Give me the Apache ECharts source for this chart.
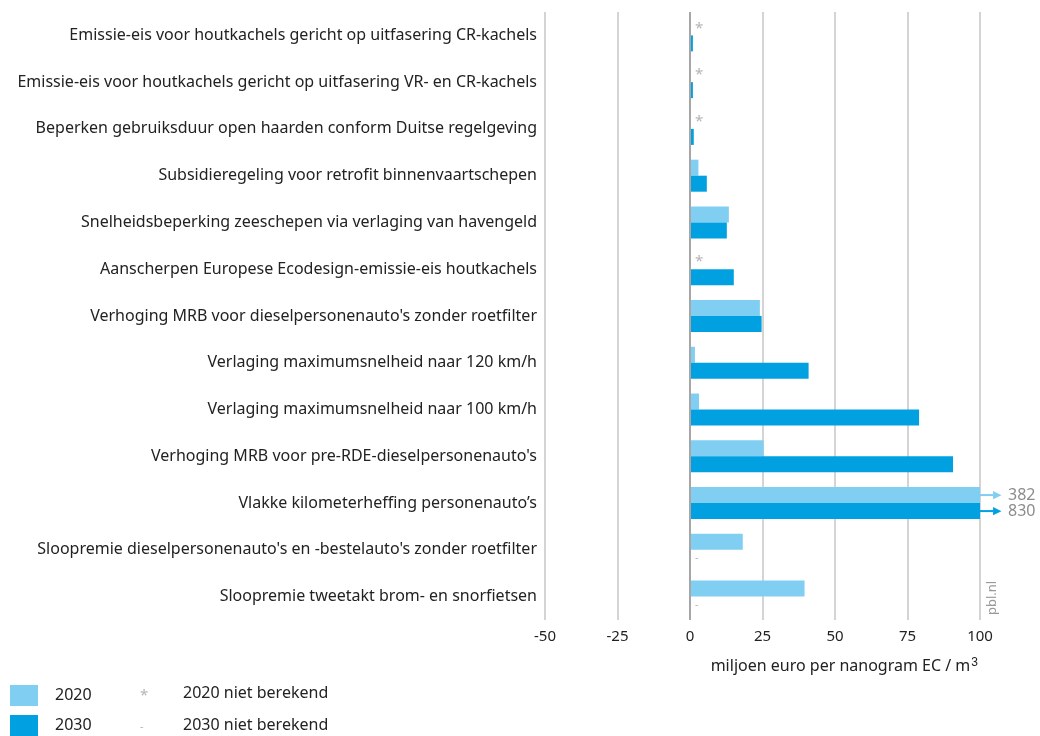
<!DOCTYPE html>
<html>
<head>
<meta charset="utf-8">
<script src="https://cdn.jsdelivr.net/npm/echarts@6/dist/echarts.min.js"></script>
<style>
  html, body { margin: 0; padding: 0; background: #fff; }
  #chart { width: 1040px; height: 736px; }
</style>
</head>
<body>
<div id="chart"></div>
<script>
// maatregelen (van boven naar beneden)
const categories = [
  'Emissie-eis voor houtkachels gericht op uitfasering CR-kachels',
  'Emissie-eis voor houtkachels gericht op uitfasering VR- en CR-kachels',
  'Beperken gebruiksduur open haarden conform Duitse regelgeving',
  'Subsidieregeling voor retrofit binnenvaartschepen',
  'Snelheidsbeperking zeeschepen via verlaging van havengeld',
  'Aanscherpen Europese Ecodesign-emissie-eis houtkachels',
  "Verhoging MRB voor dieselpersonenauto's zonder roetfilter",
  'Verlaging maximumsnelheid naar 120 km/h',
  'Verlaging maximumsnelheid naar 100 km/h',
  "Verhoging MRB voor pre-RDE-dieselpersonenauto's",
  'Vlakke kilometerheffing personenauto’s',
  "Sloopremie dieselpersonenauto's en -bestelauto's zonder roetfilter",
  'Sloopremie tweetakt brom- en snorfietsen'
];
// null = niet berekend
const values2020 = [null, null, null, 2.9, 13.4, null, 24.1, 1.7, 3.1, 25.4, 382, 18.2, 39.5];
const values2030 = [1.0, 1.0, 1.3, 5.8, 12.7, 15.1, 24.7, 40.9, 79, 90.7, 830, null, null];
const xTicks = [-50, -25, 0, 25, 50, 75, 100];

const xMin = xTicks[0];
const xMax = xTicks[xTicks.length - 1];
const color2020 = '#80cff3';
const color2030 = '#00a0e1';

// bouw de data-items: ontbrekend -> markering, te groot -> pijl met waarde
function buildData(values, color, missingMark) {
  return values.map(v => {
    if (v === null) {
      return {
        value: 0,
        label: {
          show: true, position: 'right', distance: 5,
          formatter: missingMark,
          color: '#b5b5b5', fontSize: missingMark === '*' ? 15 : 11,
          offset: missingMark === '*' ? [0, 1] : [0, 0]
        }
      };
    }
    if (v > xMax) {
      return {
        value: xMax,
        label: {
          show: true, position: 'right', distance: 0,
          formatter: '{ln|}{tri|▶}{num|' + v + '}',
          rich: {
            ln: { width: 13, height: 2, backgroundColor: color },
            tri: { color: color, fontSize: 11 },
            num: { color: '#8c8c8c', fontSize: 16, padding: [0, 0, 0, 7], fontFamily: 'Noto Sans' }
          }
        }
      };
    }
    return { value: v };
  });
}

const chart = echarts.init(document.getElementById('chart'));
chart.setOption({
  animation: false,
  textStyle: { fontFamily: 'Noto Sans' },
  grid: { left: 545, right: 60, top: 12, bottom: 116 },
  legend: {
    orient: 'vertical',
    left: 10,
    top: 685,
    padding: 0,
    itemWidth: 28,
    itemHeight: 21,
    itemGap: 9,
    icon: 'rect',
    textStyle: { fontSize: 16, color: '#222', padding: [2, 0, 0, 12] },
    data: ['2020', '2030']
  },
  xAxis: {
    type: 'value',
    min: xMin,
    max: xMax,
    interval: 25,
    axisLine: { show: false },
    axisTick: { show: false },
    axisLabel: { color: '#222', fontSize: 15, margin: 9 },
    splitLine: { show: true, lineStyle: { color: '#d4d4d4', width: 2 } }
  },
  yAxis: {
    type: 'category',
    data: categories,
    inverse: true,
    axisLine: { show: false },
    axisTick: { show: false },
    axisLabel: { color: '#222', fontSize: 16, margin: 8 }
  },
  series: [
    {
      name: '2020',
      type: 'bar',
      barWidth: 16,
      barGap: '0%',
      itemStyle: { color: color2020 },
      data: buildData(values2020, color2020, '*'),
      markLine: {
        silent: true,
        symbol: 'none',
        label: { show: false },
        lineStyle: { color: '#a6a6a6', width: 2, type: 'solid' },
        data: [{ xAxis: 0 }]
      }
    },
    {
      name: '2030',
      type: 'bar',
      barWidth: 16,
      barGap: '0%',
      itemStyle: { color: color2030 },
      data: buildData(values2030, color2030, '-')
    }
  ],
  graphic: [
    {
      type: 'text', left: 140, top: 688,
      style: { text: '*', fill: '#b5b5b5', fontSize: 15, fontFamily: 'Noto Sans' }
    },
    {
      type: 'text', left: 183, top: 685,
      style: { text: '2020 niet berekend', fill: '#222', fontSize: 16, fontFamily: 'Noto Sans' }
    },
    {
      type: 'text', left: 140, top: 721,
      style: { text: '-', fill: '#b5b5b5', fontSize: 11, fontFamily: 'Noto Sans' }
    },
    {
      type: 'text', left: 183, top: 717,
      style: { text: '2030 niet berekend', fill: '#222', fontSize: 16, fontFamily: 'Noto Sans' }
    },
    {
      type: 'text', right: 62, top: 657,
      style: {
        text: 'miljoen euro per nanogram EC / m{sup|3}',
        fill: '#222', fontSize: 16, fontFamily: 'Noto Sans',
        rich: { sup: { fontSize: 12, verticalAlign: 'top', padding: [0, 0, 6, 1] } }
      }
    },
    {
      type: 'text', x: 986, y: 615, rotation: Math.PI / 2,
      style: { text: 'pbl.nl', fill: '#9a9a9a', fontSize: 13, fontFamily: 'Noto Sans' }
    }
  ]
});
</script>
</body>
</html>
